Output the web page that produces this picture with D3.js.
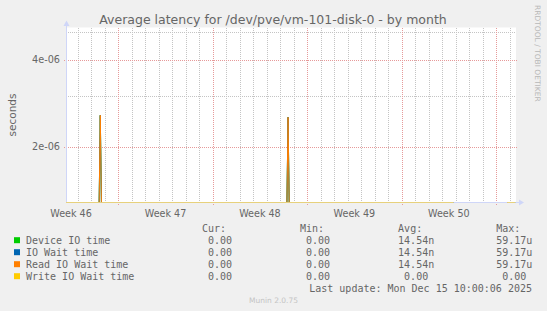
<!DOCTYPE html>
<html>
<head>
<meta charset="utf-8">
<script src="https://cdn.jsdelivr.net/npm/d3@7"></script>
<style>
  html, body { margin: 0; padding: 0; background: #f0f0f0; }
  svg { display: block; }
</style>
</head>
<body>
<svg id="chart" width="547" height="311"></svg>
<script>
// ---------------- DATA ----------------
const categories = ["Device IO time", "IO Wait time", "Read IO Wait time", "Write IO Wait time"];
const seriesColors = ["#00cc00", "#0066b3", "#ff8000", "#ffcc00"];

// sample times (UTC) of the plotted monthly points (null values = unknown)
const sampleTimes = [
  "2025-11-12T03:00:00Z", "2025-11-14T14:00:00Z", "2025-11-14T16:00:00Z", "2025-11-14T18:00:00Z",
  "2025-11-28T12:00:00Z", "2025-11-28T14:00:00Z", "2025-11-28T16:00:00Z",
  "2025-12-10T20:00:00Z", "2025-12-10T22:00:00Z", "2025-12-14T18:00:00Z",
  "2025-12-14T20:00:00Z", "2025-12-15T10:00:00Z"
];
const deviceIO = [0, 0, 2.57e-6, 0, 0, 2.53e-6, 0, 0, null, null, 0, 0];
const ioWait   = [0, 0, 2.57e-6, 0, 0, 2.53e-6, 0, 0, null, null, 0, 0];
const readIO   = [0, 0, 2.57e-6, 0, 0, 2.53e-6, 0, 0, null, null, 0, 0];
const writeIO  = [0, 0, 0,       0, 0, 0,       0, 0, null, null, 0, 0];

const timeDomain = ["2025-11-12T03:00:00Z", "2025-12-15T11:30:00Z"];
const yDomain = [1.2846e-6, 5.167e-6];

const weekLabelDates = ["2025-11-12T12:00:00Z", "2025-11-19T12:00:00Z", "2025-11-26T12:00:00Z", "2025-12-03T12:00:00Z", "2025-12-10T12:00:00Z"];
const weekLabels = ["Week 46", "Week 47", "Week 48", "Week 49", "Week 50"];
const yMajorTicks = [2e-6, 4e-6];
const yMajorLabels = ["2e-06", "4e-06"];
const yMinorTicks = [3e-6, 5e-6];

const legendHeaders = ["Cur:", "Min:", "Avg:", "Max:"];
const curVals = ["0.00", "0.00", "0.00", "0.00"];
const minVals = ["0.00", "0.00", "0.00", "0.00"];
const avgVals = ["14.54", "14.54", "14.54", "0.00"];
const avgUnits = ["n", "n", "n", ""];
const maxVals = ["59.17", "59.17", "59.17", "0.00"];
const maxUnits = ["u", "u", "u", ""];

const titleText = "Average latency for /dev/pve/vm-101-disk-0 - by month";
const yAxisLabel = "seconds";
const lastUpdate = "Last update: Mon Dec 15 10:00:06 2025";
const footer = "Munin 2.0.75";
const watermark = "RRDTOOL / TOBI OETIKER";

// ---------------- LAYOUT ----------------
const P = { left: 66, right: 516, top: 27.5, bottom: 202.5 };
const svg = d3.select("#chart");
const AXIS = "#cfd6f8";
const FONT = "#666666";
const sans = "'DejaVu Sans', sans-serif";
const mono = "'DejaVu Sans Mono', monospace";

svg.append("rect").attr("width", 547).attr("height", 311).attr("fill", "#f0f0f0");
svg.append("rect").attr("x", P.left).attr("y", P.top)
  .attr("width", P.right - P.left).attr("height", P.bottom - P.top).attr("fill", "#ffffff");

const x = d3.scaleUtc().domain(timeDomain.map(d => new Date(d))).range([P.left, P.right]);
const y = d3.scaleLog().domain(yDomain).range([P.bottom, P.top]);

const px = v => Math.round(v) + 0.5;

// vertical grid: daily minor, weekly (Sunday) major
const days = d3.utcDay.range(x.domain()[0], x.domain()[1]);
const gGrid = svg.append("g").attr("shape-rendering", "crispEdges");
gGrid.selectAll(".vmin").data(days.filter(d => d.getUTCDay() !== 0)).enter().append("line")
  .attr("x1", d => px(x(d))).attr("x2", d => px(x(d)))
  .attr("y1", P.top).attr("y2", P.bottom)
  .attr("stroke", "#c4c4c4").attr("stroke-dasharray", "1,1");
gGrid.selectAll(".ymin").data(yMinorTicks).enter().append("line")
  .attr("x1", P.left).attr("x2", P.right)
  .attr("y1", d => px(y(d))).attr("y2", d => px(y(d)))
  .attr("stroke", "#c4c4c4").attr("stroke-dasharray", "1,1");
gGrid.selectAll(".vmaj").data(days.filter(d => d.getUTCDay() === 0)).enter().append("line")
  .attr("x1", d => px(x(d))).attr("x2", d => px(x(d)))
  .attr("y1", P.top).attr("y2", P.bottom + 3)
  .attr("stroke", "#e69a9a").attr("stroke-dasharray", "1,1");
gGrid.selectAll(".ymaj").data(yMajorTicks).enter().append("line")
  .attr("x1", P.left - 2).attr("x2", P.right + 2)
  .attr("y1", d => px(y(d))).attr("y2", d => px(y(d)))
  .attr("stroke", "#e69a9a").attr("stroke-dasharray", "1,1");

// axes (lavender) drawn under data
const gAxis = svg.append("g").attr("shape-rendering", "crispEdges");
gAxis.append("line").attr("x1", P.left + 0.5).attr("x2", P.left + 0.5)
  .attr("y1", P.bottom + 0.5).attr("y2", P.top - 5).attr("stroke", AXIS);
gAxis.append("line").attr("x1", P.left).attr("x2", P.right + 4)
  .attr("y1", P.bottom).attr("y2", P.bottom).attr("stroke", AXIS);
svg.append("path").attr("d", `M${P.left - 2.5},${P.top - 1.5} L${P.left + 3.5},${P.top - 1.5} L${P.left + 0.5},${P.top - 7} Z`)
  .attr("fill", AXIS);
svg.append("path").attr("d", `M${P.right + 3},${P.bottom - 3} L${P.right + 3},${P.bottom + 3} L${P.right + 8},${P.bottom} Z`)
  .attr("fill", AXIS);

// data lines
const allSeries = [deviceIO, ioWait, readIO, writeIO];
const times = sampleTimes.map(d => new Date(d));
const line = d3.line()
  .defined(d => d.v !== null)
  .x(d => x(d.t))
  .y(d => d.v > yDomain[0] ? y(d.v) : P.bottom);
const gData = svg.append("g");
allSeries.forEach((s, i) => {
  gData.append("path")
    .datum(s.map((v, j) => ({ t: times[j], v: v })))
    .attr("d", line)
    .attr("fill", "none")
    .attr("stroke", seriesColors[i])
    .attr("stroke-width", 1);
});
// axis overlay at half strength (rrdtool blends axis over the line)
svg.append("line").attr("x1", P.left).attr("x2", P.right)
  .attr("y1", P.bottom).attr("y2", P.bottom)
  .attr("stroke", AXIS).attr("stroke-opacity", 0.5).attr("shape-rendering", "crispEdges");

// tick labels
svg.selectAll(".ylab").data(yMajorTicks).enter().append("text")
  .attr("x", P.left - 6).attr("y", d => y(d)).attr("dy", "0.35em")
  .attr("text-anchor", "end").attr("font-family", sans).attr("font-size", 9.7)
  .attr("fill", FONT).text((d, i) => yMajorLabels[i]);
svg.selectAll(".xlab").data(weekLabelDates).enter().append("text")
  .attr("x", d => x(new Date(d))).attr("y", P.bottom + 14)
  .attr("text-anchor", "middle").attr("font-family", sans).attr("font-size", 9.6)
  .attr("fill", FONT).text((d, i) => weekLabels[i]);

// title, axis label, watermark
svg.append("text").attr("x", 273).attr("y", 23.5).attr("text-anchor", "middle")
  .attr("font-family", sans).attr("font-size", 12.5).attr("fill", FONT).text(titleText);
svg.append("text").attr("transform", `translate(15.5,${(P.top + P.bottom) / 2}) rotate(-90)`)
  .attr("text-anchor", "middle").attr("font-family", sans).attr("font-size", 10.5)
  .attr("fill", FONT).text(yAxisLabel);
svg.append("text").attr("transform", "translate(534.5,5) rotate(90)")
  .attr("text-anchor", "start").attr("font-family", sans).attr("font-size", 7.5)
  .attr("fill", "#b8b8b8").text(watermark);

// legend
const colEdges = [232, 330.1, 428.2, 526.3];
const headerY = 228.3, rowY0 = 240.2, rowStep = 12;
svg.selectAll(".hdr").data(legendHeaders).enter().append("text")
  .attr("x", (d, i) => colEdges[i] - 6).attr("y", headerY).attr("dy", "0.35em")
  .attr("text-anchor", "end").attr("font-family", mono).attr("font-size", 10)
  .attr("fill", FONT).text(d => d);
categories.forEach((c, i) => {
  const cy = rowY0 + i * rowStep;
  svg.append("rect").attr("x", 14).attr("y", cy - 3).attr("width", 6).attr("height", 6)
    .attr("fill", seriesColors[i]);
  const g = svg.append("g").attr("font-family", mono).attr("font-size", 10).attr("fill", FONT);
  g.append("text").attr("x", 26).attr("y", cy).attr("dy", "0.35em").text(c);
  [curVals, minVals, avgVals, maxVals].forEach((arr, k) => {
    g.append("text").attr("x", colEdges[k]).attr("y", cy).attr("dy", "0.35em")
      .attr("text-anchor", "end").text(arr[i]);
  });
  g.append("text").attr("x", colEdges[2]).attr("y", cy).attr("dy", "0.35em").text(avgUnits[i]);
  g.append("text").attr("x", colEdges[3]).attr("y", cy).attr("dy", "0.35em").text(maxUnits[i]);
});
svg.append("text").attr("x", 532).attr("y", rowY0 + 4 * rowStep).attr("dy", "0.35em")
  .attr("text-anchor", "end").attr("font-family", mono).attr("font-size", 10)
  .attr("fill", FONT).text(lastUpdate);
svg.append("text").attr("x", 273.5).attr("y", rowY0 + 5 * rowStep).attr("dy", "0.35em")
  .attr("text-anchor", "middle").attr("font-family", sans).attr("font-size", 7.5)
  .attr("fill", "#c4c4c4").text(footer);
</script>
</body>
</html>
